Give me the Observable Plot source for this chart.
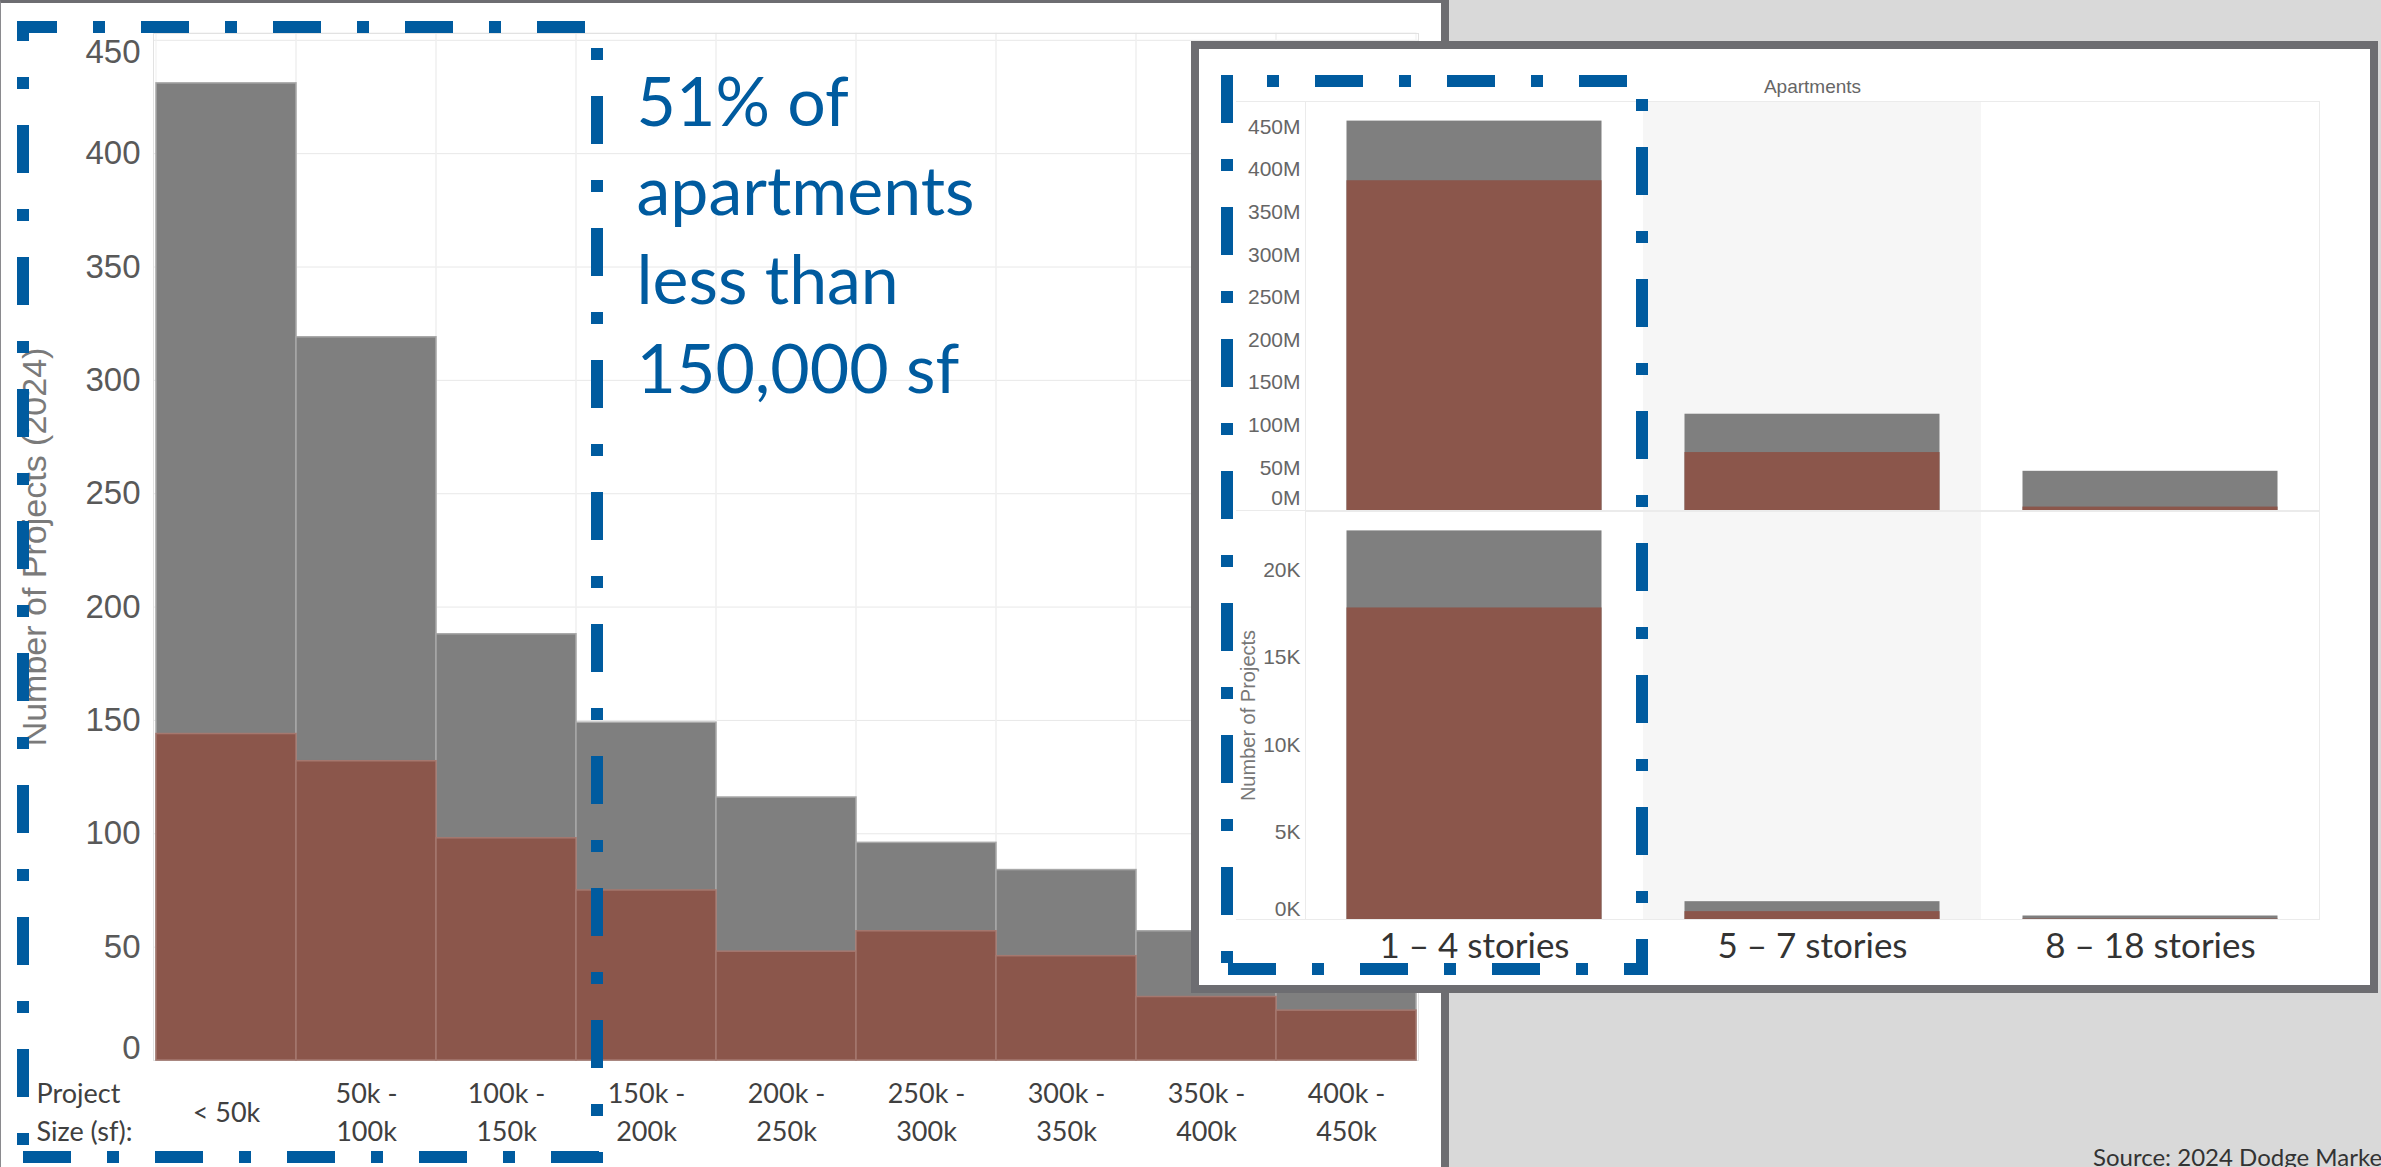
<!DOCTYPE html>
<html>
<head>
<meta charset="utf-8">
<script src="https://cdn.jsdelivr.net/npm/d3@7"></script>
<script src="https://cdn.jsdelivr.net/npm/@observablehq/plot@0.6"></script>
<style>
  html, body { margin: 0; padding: 0; width: 2381px; height: 1167px; overflow: hidden; background: #d9d9d9; }
  body { position: relative; }
  .abs { position: absolute; }
  #leftPanel { left: 0; top: 0; width: 1449px; height: 1167px; box-sizing: border-box; background: #fff;
               border-left: 1px solid #8a8a8e; border-top: 3px solid #6d6d71; border-right: 8px solid #6d6d71; }
  #mainChart { left: 0; top: 0; z-index: 1; }
  #mainHighlight { left: 0; top: 0; z-index: 2; }
  #source { left: 2093px; top: 1145px; font: 24px Lato, "Open Sans", sans-serif; line-height: 24px; color: #333; white-space: nowrap; z-index: 2; }
  #insetBox { left: 1191px; top: 41px; width: 1187px; height: 952px; box-sizing: border-box; background: #fff;
              border: 8px solid #6d6d71; z-index: 3; }
  #insetTop { left: 1199px; top: 49px; z-index: 4; }
  #insetBottom { left: 1199px; top: 511px; z-index: 4; }
  #insetHighlight { left: 0; top: 0; z-index: 5; }
</style>
</head>
<body>
<div id="leftPanel" class="abs"></div>
<div id="mainChart" class="abs"></div>
<div id="source" class="abs">Source: 2024 Dodge Marke</div>
<div id="insetBox" class="abs"></div>
<div id="insetTop" class="abs"></div>
<div id="insetBottom" class="abs"></div>
<script>
// ---- Apartment projects by project size (2024) ----
const sizeBins = ["< 50k", "50k - 100k", "100k - 150k", "150k - 200k", "200k - 250k",
                  "250k - 300k", "300k - 350k", "350k - 400k", "400k - 450k"];
const sizeTickLabels = ["< 50k", "50k -\n100k", "100k -\n150k", "150k -\n200k", "200k -\n250k",
                        "250k -\n300k", "300k -\n350k", "350k -\n400k", "400k -\n450k"];
const allProjects = [431, 319, 188, 149, 116, 96, 84, 57, 45];
const highlightedProjects = [144, 132, 98, 75, 48, 57, 46, 28, 22];
const countTicks = [0, 50, 100, 150, 200, 250, 300, 350, 400, 450];
const annotation = "51% of\napartments\nless than\n150,000 sf";

// ---- Apartments by building height ----
const storyBands = ["1 – 4 stories", "5 – 7 stories", "8 – 18 stories"];
const valueAllM = [457, 113, 46];
const valueHighlightedM = [387, 68, 4];
const valueTicksM = [0, 50, 100, 150, 200, 250, 300, 350, 400, 450];
const projectsAll = [22240, 1020, 200];
const projectsHighlighted = [17830, 450, 30];
const projectTicks = [0, 5000, 10000, 15000, 20000];

const GRAY = "#7f7f7f", RED = "#8b564b", BLUE = "#005b9f";
const ARIAL = "'Liberation Sans', Arial, sans-serif";
const LATO = "Lato, 'Open Sans', sans-serif";
const svgStyle = {background: "transparent", fontFamily: ARIAL, overflow: "visible"};

// ---------- main histogram ----------
const mainRows = sizeBins.map((bin, i) => ({
  bin, label: sizeTickLabels[i], all: allProjects[i], highlighted: highlightedProjects[i]
}));
const mainAxis = {tickSize: 0, tickPadding: 13, fontSize: 33, fill: "#595959", label: null};

const main = Plot.plot({
  width: 1441, height: 1167,
  marginTop: 33, marginRight: 23, marginBottom: 107, marginLeft: 153,
  style: svgStyle,
  x: {type: "band", domain: sizeBins, padding: 0, axis: null},
  y: {domain: [0, 453]},
  marks: [
    Plot.gridY(countTicks, {stroke: "#e8e8e8", strokeOpacity: 1}),
    Plot.cell(sizeBins, {x: d => d, fill: "none", stroke: "#efefef", inset: 0}),
    Plot.frame({stroke: "#e2e2e2"}),
    Plot.barY(mainRows, {x: "bin", y: "all", fill: GRAY, stroke: "#a8a8a8", strokeWidth: 1.5}),
    Plot.barY(mainRows, {x: "bin", y: "highlighted", fill: RED, stroke: "#a5786f", strokeWidth: 1.5}),
    Plot.axisY(countTicks.filter(t => t > 0 && t < 450), mainAxis),
    Plot.axisY([0], {...mainAxis, dy: -12}),
    Plot.axisY([450], {...mainAxis, dy: 12}),
    Plot.text(mainRows, {x: "bin", text: "label", frameAnchor: "bottom", dy: 49, lineAnchor: "middle",
                         lineHeight: 1.41, fontSize: 27, fontFamily: LATO, fill: "#404040"}),
    Plot.text(["Project\nSize (sf):"], {frameAnchor: "bottom-left", dx: -117, dy: 49, textAnchor: "start",
                         lineAnchor: "middle", lineHeight: 1.41, fontSize: 27, fontFamily: LATO, fill: "#404040"}),
    Plot.text(["Number of Projects (2024)"], {frameAnchor: "left", dx: -118, rotate: -90, textAnchor: "middle",
                         lineAnchor: "middle", fontSize: 34, fill: "#7a7a7a"}),
    Plot.text([annotation], {frameAnchor: "top-left", dx: 483, dy: 29, textAnchor: "start", lineAnchor: "top",
                         lineHeight: 1.31, fontSize: 68, fontFamily: LATO, fill: BLUE})
  ]
});
document.getElementById("mainChart").append(main);

// ---------- inset: value (top) and number of projects (bottom) ----------
const valueRows = storyBands.map((band, i) => ({band, all: valueAllM[i], highlighted: valueHighlightedM[i]}));
const countRows = storyBands.map((band, i) => ({band, all: projectsAll[i], highlighted: projectsHighlighted[i]}));
const barInset = 41.5;
const insetAxis = {tickSize: 0, tickPadding: 5, fontSize: 21, fill: "#666", label: null};

const insetTop = Plot.plot({
  width: 1170, height: 462,
  marginTop: 52, marginRight: 50, marginBottom: 1, marginLeft: 106,
  style: svgStyle,
  x: {type: "band", domain: storyBands, padding: 0, axis: null},
  y: {domain: [0, 480]},
  marks: [
    Plot.cell([storyBands[1]], {x: d => d, fill: "#f6f6f6", inset: 0}),
    Plot.frame({stroke: "#ebebeb"}),
    Plot.ruleY([0, 480], {stroke: "#ebebeb", insetLeft: -69}),
    Plot.barY(valueRows, {x: "band", y: "all", fill: GRAY, insetLeft: barInset, insetRight: barInset}),
    Plot.barY(valueRows, {x: "band", y: "highlighted", fill: RED, insetLeft: barInset, insetRight: barInset}),
    Plot.axisY(valueTicksM.filter(t => t > 0), {...insetAxis, tickFormat: d => d + "M"}),
    Plot.axisY([0], {...insetAxis, tickFormat: d => d + "M", dy: -12}),
    Plot.text(["Apartments"], {frameAnchor: "top", dy: -15, lineAnchor: "middle", fontSize: 19, fill: "#666"})
  ]
});
document.getElementById("insetTop").append(insetTop);

const insetBottom = Plot.plot({
  width: 1170, height: 474,
  marginTop: 0, marginRight: 50, marginBottom: 66, marginLeft: 106,
  style: svgStyle,
  x: {type: "band", domain: storyBands, padding: 0, axis: null},
  y: {domain: [0, 23350]},
  marks: [
    Plot.cell([storyBands[1]], {x: d => d, fill: "#f6f6f6", inset: 0}),
    Plot.frame({stroke: "#ebebeb"}),
    Plot.ruleY([0], {stroke: "#ebebeb", insetLeft: -69}),
    Plot.barY(countRows, {x: "band", y: "all", fill: GRAY, insetLeft: barInset, insetRight: barInset}),
    Plot.barY(countRows, {x: "band", y: "highlighted", fill: RED, insetLeft: barInset, insetRight: barInset}),
    Plot.axisY(projectTicks.filter(t => t > 0), {...insetAxis, tickFormat: d => d / 1000 + "K"}),
    Plot.axisY([0], {...insetAxis, tickFormat: d => d / 1000 + "K", dy: -10}),
    Plot.text(["Number of Projects"], {frameAnchor: "left", dx: -57, rotate: -90, textAnchor: "middle",
                                       lineAnchor: "middle", fontSize: 20, fill: "#777"}),
    Plot.text(storyBands, {x: d => d, frameAnchor: "bottom", dy: 27, lineAnchor: "middle",
                           fontSize: 35, fontFamily: LATO, fill: "#333"})
  ]
});
document.getElementById("insetBottom").append(insetBottom);

// ---------- dash-dot highlight boxes around the under-150k / 1–4 story groups ----------
const dashPattern = "48 36 12 36";
const mainBox = [
  {x1: 17,  y1: 27,   x2: 603, y2: 27,   offset: 8},
  {x1: 23,  y1: 21,   x2: 23,  y2: 1163, offset: 28},
  {x1: 597, y1: 21,   x2: 597, y2: 1163, offset: 57},
  {x1: 17,  y1: 1157, x2: 603, y2: 1157, offset: 126}
];
const insetBox = [
  {x1: 1221, y1: 81,  x2: 1648, y2: 81,  offset: 38},
  {x1: 1227, y1: 75,  x2: 1227, y2: 975, offset: 0},
  {x1: 1642, y1: 75,  x2: 1642, y2: 975, offset: 60},
  {x1: 1221, y1: 969, x2: 1648, y2: 969, offset: 125}
];
function drawBox(edges, id) {
  const svg = d3.create("svg").attr("id", id).attr("class", "abs")
    .attr("width", 2381).attr("height", 1167).style("pointer-events", "none");
  svg.selectAll("line").data(edges).join("line")
    .attr("x1", d => d.x1).attr("y1", d => d.y1).attr("x2", d => d.x2).attr("y2", d => d.y2)
    .attr("stroke", BLUE).attr("stroke-width", 12)
    .attr("stroke-dasharray", dashPattern).attr("stroke-dashoffset", d => d.offset);
  document.body.append(svg.node());
}
drawBox(mainBox, "mainHighlight");
drawBox(insetBox, "insetHighlight");
</script>
</body>
</html>
